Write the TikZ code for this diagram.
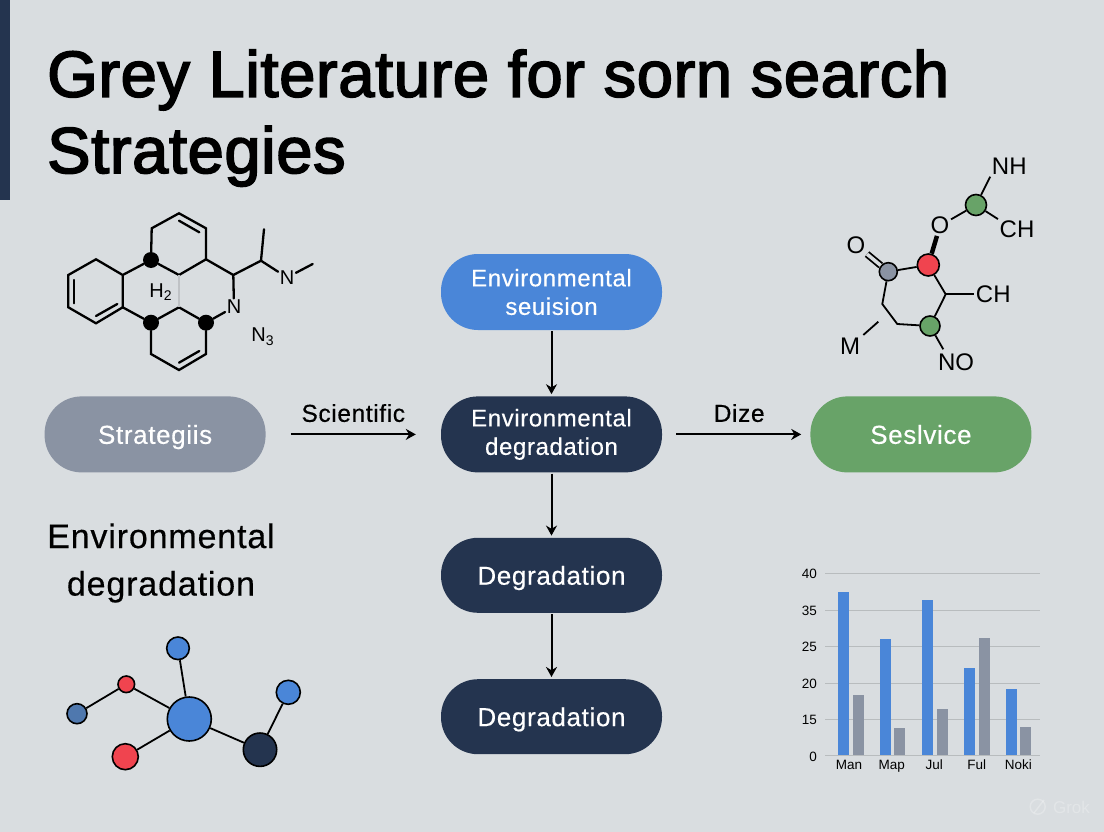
\documentclass[tikz,border=0pt]{standalone}
\usepackage{fontspec}
\usepackage{tikz}
\usetikzlibrary{positioning, arrows.meta, calc}
\setmainfont{Liberation Sans}
\newfontfamily\headfont[FakeBold=2.6, LetterSpace=1]{Liberation Sans}
\newfontfamily\pillfont[FakeBold=0.4, LetterSpace=2.5]{Liberation Sans}
\definecolor{pagegrey}{HTML}{D9DDE0}
\definecolor{navy}{HTML}{24344F}
\definecolor{skyblue}{HTML}{4A86D8}
\definecolor{slategrey}{HTML}{8A93A3}
\definecolor{leafgreen}{HTML}{68A368}
\definecolor{atomred}{HTML}{F0444F}
\definecolor{steelblue}{HTML}{4F78AE}

\begin{document}
\begin{tikzpicture}[
    x=1pt, y=-1pt,
    pill/.style={rectangle, rounded corners=37pt, minimum width=221pt, minimum height=76pt, inner sep=0pt, align=center, text=white, font=\pillfont\fontsize{24}{28.5}\selectfont},
    onepill/.style={pill, text depth=0pt, font=\pillfont\fontsize{26}{30}\selectfont},
    flow/.style={line width=2pt, -{Stealth[length=10pt, width=11pt]}},
    steplabel/.style={font=\pillfont\fontsize{24.5}{28}\selectfont, text=black},
    heading/.style={anchor=base west, font=\headfont\fontsize{65}{76}\selectfont, text=black},
    bond/.style={line width=2.3pt, line cap=round},
    thinbond/.style={line width=1.8pt},
    atom/.style={inner sep=1.5pt, font=\fontsize{20}{24}\selectfont, text=black},
    bigatom/.style={inner sep=1.5pt, font=\fontsize{24}{28}\selectfont, text=black},
    dotatom/.style={circle, fill=black, inner sep=0pt, minimum size=16pt},
    ball/.style={circle, draw=black, line width=1.6pt, inner sep=0pt, minimum size=#1},
    gridline/.style={line width=0.7pt, draw=black!15!pagegrey},
    ticklabel/.style={font=\fontsize{13.5}{15}\selectfont, text=black}
]
\useasboundingbox (0,0) rectangle (1104,832);
\fill[pagegrey] (0,0) rectangle (1104,832);
\fill[navy] (0,0) rectangle (10,200);

% Titel
\node[heading, inner sep=0pt] (title1) at (47,96.7) {Grey Literature for sorn search};
\node[heading, inner sep=0pt] (title2) at (47,173) {Strategies};

% Pillen
\node[pill, fill=skyblue] (seuision) at (551.5,292) {Environmental\\seuision};
\node[pill, fill=navy, below=66pt of seuision] (envdeg) {Environmental\\degradation};
\node[onepill, minimum height=75pt, fill=navy, below=65pt of envdeg] (deg1) {Degradation};
\node[onepill, minimum height=75pt, fill=navy, below=66pt of deg1] (deg2) {Degradation};
\node[onepill, fill=slategrey, left=175pt of envdeg] (strat) {Strategiis};
\node[onepill, fill=leafgreen, right=148pt of envdeg] (serv) {Seslvice};
\node[font=\pillfont\fontsize{34}{47.5}\selectfont, align=center, text=black] (envtext) at (161,563) {Environmental\\degradation};

% Pfeile
\draw[flow, shorten <=1pt, shorten >=2pt] (seuision) -- (envdeg);
\draw[flow, shorten <=1pt, shorten >=2pt] (envdeg) -- (deg1);
\draw[flow, shorten <=1pt, shorten >=2pt] (deg1) -- (deg2);
\draw[flow, shorten <=25pt, shorten >=25pt] (strat) -- (envdeg) node[midway, above=8pt, steplabel] {Scientific};
\draw[flow, shorten <=14pt, shorten >=9pt] (envdeg) -- (serv) node[midway, above=8pt, xshift=3pt, steplabel] {Dize};

% Molekuel links
\coordinate (a) at (151.7,228.3);
\coordinate (b) at (179,213.3);
\coordinate (c) at (206,228.3);
\coordinate (d) at (206,259.3);
\coordinate (e) at (179,275);
\coordinate (g) at (122.7,275);
\coordinate (h) at (96,259.3);
\coordinate (i) at (68.3,275);
\coordinate (j) at (68.3,307.3);
\coordinate (k) at (96,323.3);
\coordinate (l) at (122.7,307.3);
\coordinate (n) at (179,307.3);
\coordinate (p) at (206,354);
\coordinate (q) at (179,370);
\coordinate (r) at (151,354);
\coordinate (s) at (233.3,275);
\coordinate (t) at (261,260.7);
\coordinate (u) at (264,229.3);
\coordinate (v) at (312.7,264);
\node[dotatom] (f) at (151,260) {};
\node[dotatom] (m) at (151,322.7) {};
\node[dotatom] (o) at (206,322.7) {};
\node[atom] (na) at (287,277.5) {N};
\node[atom] (nb) at (234,307) {N};
\node[atom] (htwo) at (160.7,291.7) {H\textsubscript{2}};
\node[atom] (nthree) at (262.7,336.7) {N\textsubscript{3}};

\draw[bond] (f) -- (a) -- (b) -- (c) -- (d) -- (e) -- (f);
\draw[bond] (f) -- (g) -- (h) -- (i) -- (j) -- (k) -- (l) -- (g);
\draw[bond] (l) -- (m) -- (n) -- (o) -- (p) -- (q) -- (r) -- (m);
\draw[bond] (d) -- (s) -- (t) -- (u);
\draw[bond] (t) -- (na) -- (v);
\draw[bond] (s) -- (nb) -- (o);
\draw[line width=1.2pt, draw=black!12!pagegrey] (e) -- (n);
% innere Linien
\coordinate (ia) at (179,220.7);
\coordinate (ib) at (199.3,232.3);
\coordinate (ic) at (74.3,280);
\coordinate (id) at (74.3,303.3);
\coordinate (ie) at (96,316);
\coordinate (if) at (117.3,304);
\coordinate (ig) at (179,362.7);
\coordinate (ih) at (199.3,351);
\draw[bond] (ia) -- (ib);
\draw[bond] (ic) -- (id);
\draw[bond] (ie) -- (if);
\draw[bond] (ig) -- (ih);

% Molekuel rechts
\node[bigatom] (nh) at (1009.3,166.7) {NH};
\node[ball=21pt, fill=leafgreen] (gtop) at (976,205) {};
\node[bigatom] (chtop) at (1017,229.3) {CH};
\node[bigatom] (otop) at (940,225.7) {O};
\node[ball=22pt, fill=atomred] (redatom) at (928.3,265) {};
\node[ball=18pt, fill=slategrey] (greyatom) at (888.3,271.7) {};
\node[bigatom] (oleft) at (856,245) {O};
\node[ball=20pt, fill=leafgreen] (gbot) at (930,326) {};
\node[bigatom] (chmid) at (993.3,294.3) {CH};
\node[bigatom] (mlab) at (850,346.7) {M};
\node[bigatom] (nolab) at (956,362.7) {NO};
\coordinate (ca) at (882.3,304);
\coordinate (cb) at (897.3,324);
\coordinate (cc) at (945.7,294.3);
\coordinate (ma) at (863.3,335);
\coordinate (mb) at (878.3,321.7);
\coordinate (noend) at (943.3,349.3);

\draw[thinbond] (nh.south west) -- (gtop);
\draw[thinbond] (gtop) -- (chtop.north west);
\draw[thinbond] (gtop) -- (otop);
\draw[line width=4.5pt] (redatom) -- (otop);
\draw[thinbond] (redatom) -- (greyatom);
\draw[thinbond, double=pagegrey, double distance=3.5pt] (greyatom) -- (oleft);
\draw[thinbond] (greyatom) -- (ca) -- (cb) -- (gbot);
\draw[thinbond] (gbot) -- (cc) -- (redatom);
\draw[thinbond] (cc) -- (chmid);
\draw[thinbond] (ma) -- (mb);
\draw[thinbond] (gbot) -- (noend);

% Kugeln unten links
\node[ball=22.6pt, fill=skyblue] (btop) at (178,648.3) {};
\node[ball=16.6pt, fill=atomred] (rsmall) at (126.3,684.3) {};
\node[ball=20pt, fill=steelblue] (bleft) at (77,713.7) {};
\node[ball=44pt, fill=skyblue] (bbig) at (189.3,719) {};
\node[ball=26pt, fill=atomred] (rbig) at (125.3,756.7) {};
\node[ball=33.4pt, fill=navy] (ndark) at (260,749.7) {};
\node[ball=24pt, fill=skyblue] (bright) at (288.3,692.3) {};
\draw[thinbond] (bleft) -- (rsmall) -- (bbig);
\draw[thinbond] (btop) -- (bbig);
\draw[thinbond] (rbig) -- (bbig);
\draw[thinbond] (bbig) -- (ndark) -- (bright);

% Balken
\foreach \yy/\lab in {573.3/40, 610/35, 646.3/25, 683/20, 719.3/15, 755.7/0} {
    \draw[gridline] (825,\yy) -- (1040,\yy);
    \node[ticklabel, anchor=east, inner sep=0pt] at (817,\yy+0.7) {\lab};
}
\foreach \xx/\yy in {838.3/592.3, 879.7/638.7, 922/599.7, 964/668, 1005.7/688.7} {
    \fill[skyblue] (\xx,\yy) rectangle (\xx+11,755);
}
\foreach \xx/\yy in {853/695.3, 894/727.7, 936.7/709, 978.7/638.3, 1020/726.7} {
    \fill[slategrey] (\xx,\yy) rectangle (\xx+11,755);
}
\foreach \xx/\lab in {849/Man, 891.7/Map, 934.3/Jul, 976.7/Ful, 1018.3/Noki} {
    \node[ticklabel, inner sep=0pt, anchor=base] at (\xx,769.5) {\lab};
}

% Wasserzeichen
\draw[white, opacity=0.25, line width=1.4pt] (1037.7,806.7) circle (7.5pt);
\draw[white, opacity=0.25, line width=1.4pt] (1034,813) -- (1044,800);
\node[text=white, text opacity=0.25, font=\fontsize{17}{20}\selectfont, inner sep=0pt] (grok) at (1071.5,807) {Grok};
\end{tikzpicture}
\end{document}
